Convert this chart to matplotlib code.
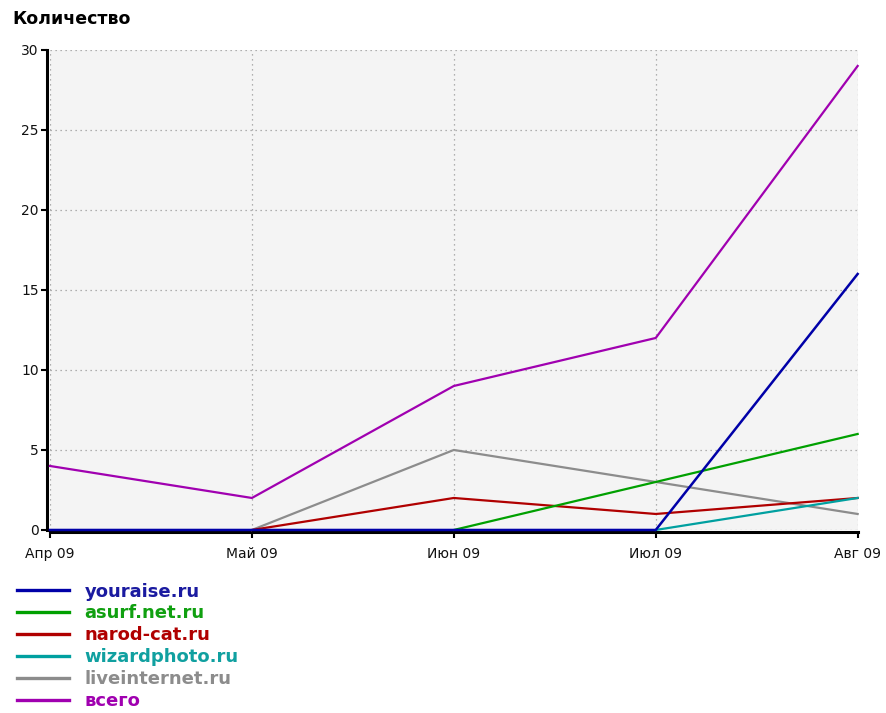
import matplotlib
matplotlib.use("Agg")
import matplotlib.pyplot as plt

months = ["Апр 09", "Май 09", "Июн 09", "Июл 09", "Авг 09"]
series_names = ["youraise.ru", "asurf.net.ru", "narod-cat.ru", "wizardphoto.ru", "liveinternet.ru", "всего"]
youraise = [0, 0, 0, 0, 16]
asurf = [None, None, 0, 3, 6]
narod = [None, 0, 2, 1, 2]
wizard = [None, None, None, 0, 2]
liveinternet = [None, 0, 5, 3, 1]
total = [4, 2, 9, 12, 29]
yticks = [0, 5, 10, 15, 20, 25, 30]

colors = ["#0000a8", "#00a000", "#b00000", "#00a0a0", "#8c8c8c", "#a000b0"]
text_colors = ["#1a1aa0", "#10a010", "#b00000", "#10a0a0", "#8c8c8c", "#a000b0"]
data = [youraise, asurf, narod, wizard, liveinternet, total]

plt.rcParams['font.family'] = ['DejaVu Sans']
fig = plt.figure(figsize=(8.86, 7.13), dpi=100)
ax = fig.add_axes([0.0564, 0.2567, 0.9116, 0.6732])
ax.set_facecolor("#f4f4f4")

x = list(range(len(months)))
order = [4, 2, 1, 3, 5, 0]
handles = {}
for i in order:
    xs = [xi for xi, v in zip(x, data[i]) if v is not None]
    ys = [v for v in data[i] if v is not None]
    z = 3 if i != 0 else 4
    lw = 1.6 if i != 0 else 1.8
    ln, = ax.plot(xs, ys, color=colors[i], lw=lw, zorder=z, clip_on=False)
    handles[i] = ln
ax.set_xlim(0, 4)
ax.set_ylim(0, 30)
ax.set_xticks(x)
ax.set_xticklabels(months, fontsize=12)
ax.set_yticks(yticks)
ax.set_yticklabels([str(v) for v in yticks], fontsize=12)
ax.grid(True, color="#999999", linestyle=(0, (1, 3)), linewidth=0.9)
for s in ["top", "right"]:
    ax.spines[s].set_visible(False)
ax.spines["left"].set_linewidth(2.2)
ax.spines["bottom"].set_linewidth(2.2)
ax.spines["bottom"].set_position(("outward", 1.5))
ax.spines["left"].set_position(("outward", 2))
ax.tick_params(axis="x", direction="out", length=4, width=1.5, color="black", pad=7, labelcolor="#111111")
ax.tick_params(axis="y", direction="out", length=4, width=1.5, color="black", pad=2, labelcolor="#111111")

fig.text(0.014, 0.973, "Количество", fontsize=12.5, fontweight="bold", ha="left", va="center")

leg = ax.legend([handles[i] for i in range(6)], series_names,
                loc="upper left", bbox_to_anchor=(0.019, 0.183), bbox_transform=fig.transFigure,
                frameon=False, fontsize=13, handlelength=2.9, handletextpad=0.85,
                labelspacing=0.22, borderpad=0, borderaxespad=0)
for t, c in zip(leg.get_texts(), text_colors):
    t.set_color(c)
    t.set_fontweight("bold")
for l in leg.get_lines():
    l.set_linewidth(2.4)

fig.savefig("out.png", dpi=100)
